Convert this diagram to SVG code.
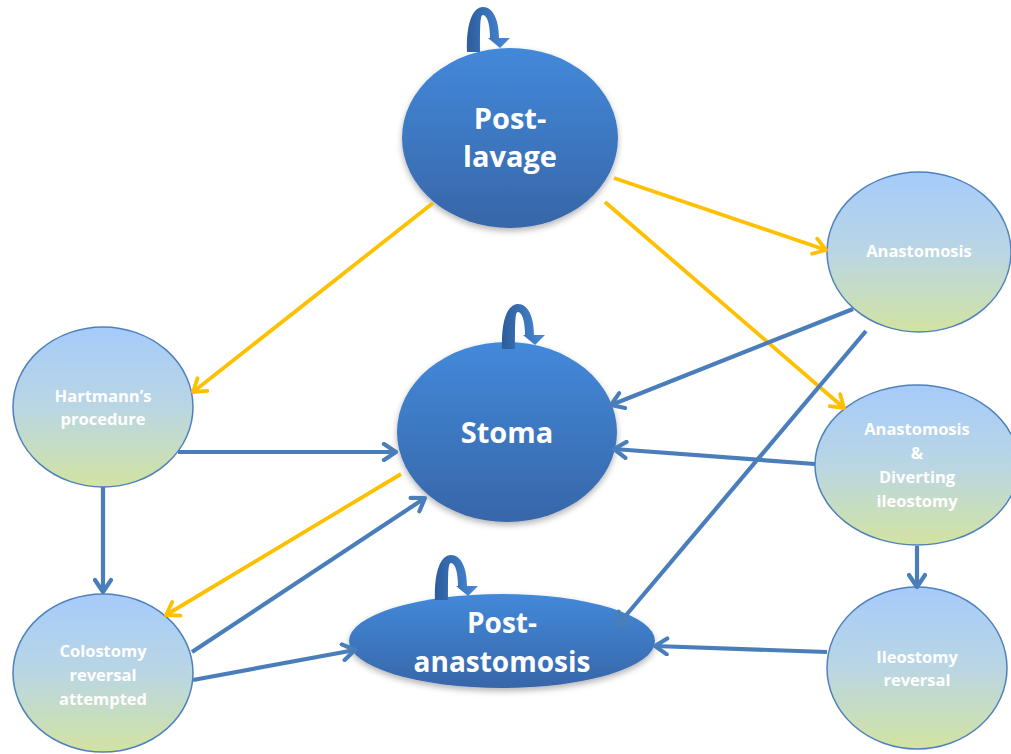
<svg xmlns="http://www.w3.org/2000/svg" width="1011" height="754" viewBox="0 0 1011 754">
<style>
.big{fill:url(#gBig);filter:url(#sh)}
.small{fill:url(#gSmall);stroke:#4f81bd;stroke-width:1.5}
.tb{font-family:"Open Sans","Liberation Sans",sans-serif;font-weight:bold;font-size:29px;fill:#ffffff;text-anchor:middle}
.ts{font-family:"Open Sans","Liberation Sans",sans-serif;font-weight:bold;font-size:16.5px;fill:#ffffff;text-anchor:middle}
.y{fill:none;stroke:#ffc000;stroke-width:3.8;marker-end:url(#ay)}
.b{fill:none;stroke:#4a7ebb;stroke-width:4.2;marker-end:url(#ab)}
.loop{fill:url(#gLoop)}
</style>
<defs>
<linearGradient id="gBig" x1="0" y1="0" x2="0" y2="1">
<stop offset="0" stop-color="#4389da"/>
<stop offset="1" stop-color="#3766a8"/>
</linearGradient>
<linearGradient id="gSmall" x1="0" y1="0" x2="0" y2="1">
<stop offset="0" stop-color="#a5cbfa"/>
<stop offset="0.5" stop-color="#bad6e4"/>
<stop offset="1" stop-color="#d2e3a1"/>
</linearGradient>
<linearGradient id="gLoop" x1="0" y1="0" x2="1" y2="0">
<stop offset="0" stop-color="#2c5d9c"/>
<stop offset="1" stop-color="#4a8ad6"/>
</linearGradient>
<filter id="sh" x="-20%" y="-20%" width="140%" height="150%">
<feDropShadow dx="0" dy="3" stdDeviation="3" flood-color="#000" flood-opacity="0.3"/>
</filter>
<marker id="ay" viewBox="0 0 20 20" refX="17" refY="10" markerWidth="20" markerHeight="20" orient="auto" markerUnits="userSpaceOnUse">
<path d="M5,2 L17,10 L5,18" fill="none" stroke="#ffc000" stroke-width="3.8" stroke-linecap="round" stroke-linejoin="round"/>
</marker>
<marker id="ab" viewBox="0 0 20 20" refX="17" refY="10" markerWidth="20" markerHeight="20" orient="auto" markerUnits="userSpaceOnUse">
<path d="M5,2 L17,10 L5,18" fill="none" stroke="#4a7ebb" stroke-width="4.2" stroke-linecap="round" stroke-linejoin="round"/>
</marker>
<path id="loopShape" d="M467,52 C466,20 474,7 483,7 C493,7 499,20 499,38 L510,38 L500,48 L488,38 L490,38 C490,24 487,15 483,15 C480,15 480,25 480,52 Z"/>
</defs>

<g id="node-post-lavage">
<ellipse class="big" cx="510" cy="138" rx="108" ry="90"/>
<use href="#loopShape" class="loop"/>
<text class="tb" x="510" y="129">Post-</text>
<text class="tb" x="510" y="167">lavage</text>
</g>

<g id="node-stoma">
<ellipse class="big" cx="507" cy="432" rx="110" ry="90"/>
<use href="#loopShape" class="loop" transform="translate(35,297)"/>
<text class="tb" x="507" y="443">Stoma</text>
</g>

<g id="node-post-anastomosis">
<ellipse class="big" cx="502" cy="641" rx="153" ry="47"/>
<use href="#loopShape" class="loop" transform="translate(-32,548)"/>
<text class="tb" x="502" y="633" style="font-size:28px">Post-</text>
<text class="tb" x="502" y="672" style="font-size:28px">anastomosis</text>
</g>

<g id="node-anastomosis">
<ellipse class="small" cx="919" cy="252" rx="92" ry="80"/>
<text class="ts" x="919" y="257">Anastomosis</text>
</g>

<g id="node-anastomosis-diverting">
<ellipse class="small" cx="917" cy="465" rx="102" ry="80"/>
<text class="ts" x="917" y="435">Anastomosis</text>
<text class="ts" x="917" y="459">&amp;</text>
<text class="ts" x="917" y="483">Diverting</text>
<text class="ts" x="917" y="507">ileostomy</text>
</g>

<g id="node-ileostomy-reversal">
<ellipse class="small" cx="917" cy="668" rx="90" ry="81"/>
<text class="ts" x="917" y="663">Ileostomy</text>
<text class="ts" x="917" y="686">reversal</text>
</g>

<g id="node-hartmanns">
<ellipse class="small" cx="103" cy="407" rx="90" ry="80"/>
<text class="ts" x="103" y="402">Hartmann’s</text>
<text class="ts" x="103" y="425">procedure</text>
</g>

<g id="node-colostomy-reversal">
<ellipse class="small" cx="103" cy="673" rx="90" ry="79"/>
<text class="ts" x="103" y="657">Colostomy</text>
<text class="ts" x="103" y="681">reversal</text>
<text class="ts" x="103" y="705">attempted</text>
</g>

<g id="connectors">
<line class="y" x1="433" y1="203" x2="193" y2="392"/>
<line class="y" x1="614" y1="178" x2="826" y2="250"/>
<line class="y" x1="605" y1="202" x2="844" y2="408"/>
<line class="y" x1="401" y1="474" x2="166" y2="615"/>
<line class="b" x1="178" y1="452" x2="396" y2="452"/>
<line class="b" x1="103" y1="487" x2="103" y2="592"/>
<line class="b" x1="853" y1="309" x2="611" y2="405"/>
<line class="b" x1="815" y1="464" x2="614" y2="449"/>
<line class="b" x1="866" y1="331" x2="617" y2="626"/>
<line class="b" x1="917" y1="546" x2="917" y2="587"/>
<line class="b" x1="827" y1="652" x2="655" y2="646"/>
<line class="b" x1="192" y1="652" x2="425" y2="498"/>
<line class="b" x1="193" y1="680" x2="355" y2="650"/>
</g>
</svg>
